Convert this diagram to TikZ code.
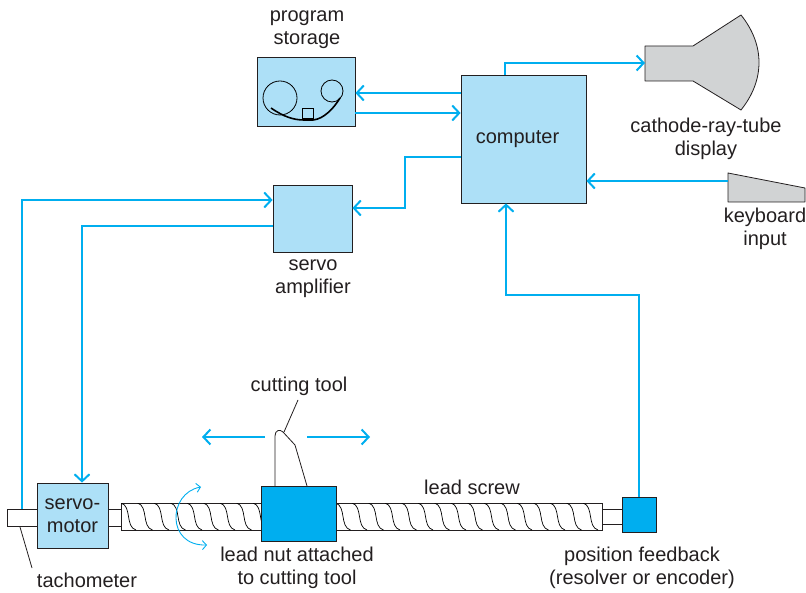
\documentclass[tikz,border=0pt]{standalone}
\usepackage{fontspec}
\setmainfont{Liberation Sans}
\usetikzlibrary{arrows.meta}
\definecolor{boxblue}{RGB}{173,224,247}
\definecolor{lineblue}{RGB}{0,174,239}
\definecolor{devgray}{RGB}{209,211,212}
\definecolor{ink}{RGB}{35,31,32}
\begin{document}
\begin{tikzpicture}[x=1pt,y=-1pt,
		every node/.style={font=\fontsize{20}{23}\selectfont,text=ink,align=center},
		unit/.style={draw=ink,fill=boxblue,line width=0.8pt,inner sep=0pt},
		part/.style={draw=ink,fill=white,line width=0.8pt},
		device/.style={draw=ink,fill=devgray,line width=0.8pt,line join=round},
		link/.style={draw=lineblue,line width=2pt,-{Straight Barb[length=7pt,width=15pt]}},
		motion/.style={draw=lineblue,line width=2pt,-{Straight Barb[length=7pt,width=15pt]}},
		spin/.style={draw=lineblue,line width=0.9pt,{Straight Barb[length=4pt,width=9pt]}-{Straight Barb[length=4pt,width=9pt]}},
		leader/.style={draw=ink,line width=0.8pt}]
		    	\useasboundingbox (0,0) rectangle (806,593);
		    	
		    	\node[unit,minimum width=98pt,minimum height=69pt] (ST) at (306,91.5) {};
		    	\node[unit,minimum width=125pt,minimum height=128pt] (CO) at (523.5,139) {\hspace*{-12pt}computer};
		    	\node[unit,minimum width=79pt,minimum height=67pt] (AM) at (312.5,218.5) {};
		    	\node at (307,30) {program\\storage};
		    	\node at (706,139) {cathode-ray-tube\\display};
		    	\node at (765,229) {keyboard\\input};
		    	\node at (313,279) {servo\\amplifier};
		    	
		    	\draw[line width=0.8pt] (280,98) circle (17);
		    	\draw[line width=0.8pt] (332,91) circle (11);
		    	\draw[line width=0.8pt] (302,108) rectangle (313,118);
		    	\draw[line width=1.6pt] (271,108) .. controls (284,117) and (294,120) .. (304,120) -- (313,120) .. controls (324,119) and (334,108) .. (340,98);
		    	
		    	\draw[device] (645,46) -- (693,46) -- (741,15) .. controls (765,45) and (765,80) .. (741,110) -- (693,81) -- (645,81) -- cycle;
		    	\draw[device] (728,173) -- (805,188) -- (805,202) -- (728,202) -- cycle;
		    	\coordinate (CRT) at (645,63);
		    	\coordinate (KB) at (728,181);
		    	
		    	\draw[part] (7,509) rectangle (37,526);
		    	\draw[part] (108,509) rectangle (121,526);
		    	\draw[part] (602,509) rectangle (622,524);
		    	\draw[part] (121,503) rectangle (602,530);
		    	\begin{scope}
		    		\clip (121,503) rectangle (602,530);
		    		\foreach \i in {0,...,28}
		    			\draw[line width=0.7pt] ({121+16.5*\i},503) .. controls ({132+16.5*\i},506) and ({125+16.5*\i},527) .. ({136+16.5*\i},530);
		    	\end{scope}
		    	
		    	\draw[part,line join=round] (275,486) -- (275,436) .. controls (275,430) and (280,429) .. (283,432) -- (295,445) -- (307,486);
		    	\node[unit,minimum width=71pt,minimum height=65pt] (MO) at (72.5,515.5) {servo-\\motor};
		    	\node[unit,fill=lineblue,minimum width=75pt,minimum height=55pt] (NU) at (298.5,513.5) {};
		    	\node[unit,fill=lineblue,minimum width=34pt,minimum height=35pt] (FB) at (639,514.5) {};
		    	\coordinate (TA) at (22,509);
		    	\coordinate (TL) at (298,400);
		    	\coordinate (TT) at (284,432);
		    	
		    	\node at (299,386) {cutting tool};
		    	\node at (472,487) {lead screw};
		    	\node at (297,568) {lead nut attached\\to cutting tool};
		    	\node at (87,580) {tachometer};
		    	\node at (642,568) {position feedback\\(resolver or encoder)};
		    	\draw[leader] (TT)--(TL);
		    	\draw[leader] (20,527)--(32,568);
		    	
		    	\draw[link] (CO.west |- 0,93)--(ST.east |- 0,93);
		    	\draw[link] (ST.east |- 0,113)--(CO.west |- 0,113);
		    	\draw[link] (CO.north -| 505,0) |- (CRT);
		    	\draw[link] (KB)--(CO.east |- KB);
		    	\draw[link] (CO.west |- 0,157) -- (405,157) -- (405,208) -- (AM.east |- 0,208);
		    	\draw[link] (TA) |- (AM.west |- 0,200);
		    	\draw[link] (AM.west |- 0,226) -| (MO.north -| 82,0);
		    	\draw[link] (FB.north) |- (506,295) -- (CO.south -| 506,0);
		    	\draw[motion] (265,437)--(202,437);
		    	\draw[motion] (307,437)--(370,437);
		    	\draw[spin] (201,487) .. controls (168,493) and (166,546) .. (207,545);
		    \end{tikzpicture}
\end{document}
